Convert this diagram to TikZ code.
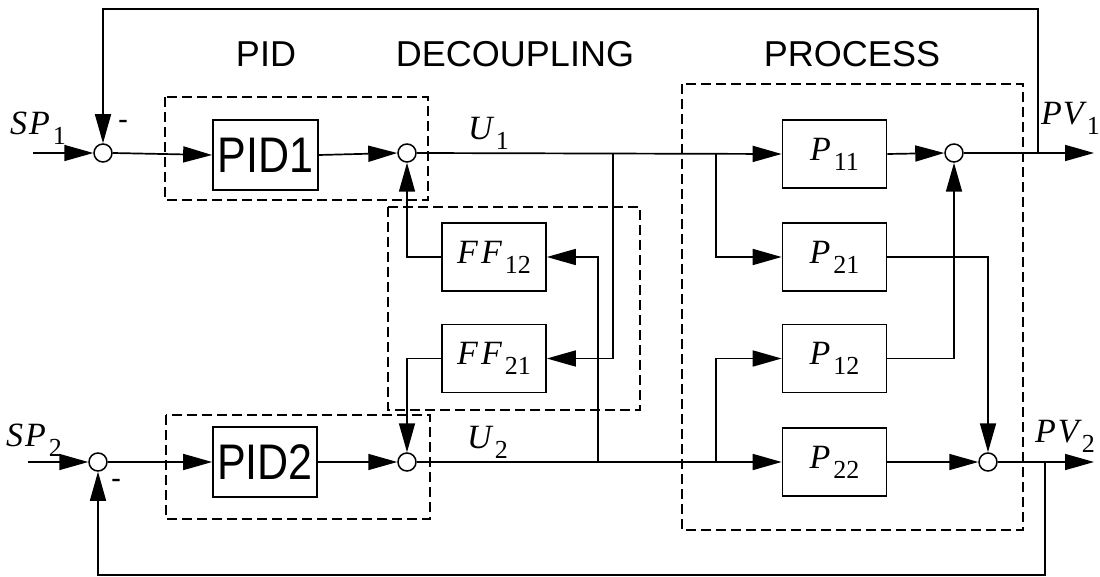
\documentclass[tikz,border=0pt]{standalone}
\usepackage{graphicx}
\usepackage{fontspec}
\setmainfont{Liberation Serif}
\newfontfamily\headfont{Liberation Sans}
\usetikzlibrary{arrows.meta}

% italic symbol with an upright, lowered index
\newcommand\sym[2]{{\fontsize{34}{34}\selectfont\itshape #1}\kern3pt\raisebox{-10pt}{\fontsize{26}{26}\selectfont #2}}
\newcommand\blocktext[1]{\scalebox{0.86}[1]{\headfont\fontsize{50}{50}\selectfont #1}}

\begin{document}
\begin{tikzpicture}[x=1pt,y=-1pt,
  wire/.style={line width=1.7pt},
  sig/.style={wire,-{Triangle[length=29pt,width=16pt]}},
  block/.style={draw,line width=1.7pt,minimum width=104pt,minimum height=68pt,inner sep=0pt},
  sumnode/.style={circle,draw,line width=1.5pt,fill=white,minimum size=18pt,inner sep=0pt},
  group/.style={draw,line width=1.6pt,dash pattern=on 10pt off 5pt},
  head/.style={font=\headfont\fontsize{36}{36}\selectfont},
  sign/.style={font=\headfont\fontsize{30}{30}\selectfont,inner sep=0pt}]

\useasboundingbox (0,0) rectangle (1100,577);

% dashed groups
\draw[group] (165,97) rectangle (428,200);
\draw[group] (166,415) rectangle (430,519);
\draw[group] (388,207) rectangle (640,410);
\draw[group] (682,84) rectangle (1023,530);

% headings
\node[head] (hpid) at (266,54) {PID};
\node[head] (hdec) at (515,54) {DECOUPLING};
\node[head] (hproc) at (852,54) {PROCESS};

% summing junctions
\node[sumnode] (s1) at (103,153) {};
\node[sumnode] (s2) at (407,153) {};
\node[sumnode] (s3) at (98,462) {};
\node[sumnode] (s4) at (407,462) {};
\node[sumnode] (s5) at (954,153) {};
\node[sumnode] (s6) at (988,462) {};

% controllers
\node[block,minimum width=105pt,minimum height=70pt] (pid1) at (265.5,155) {\blocktext{PID1}};
\node[block,minimum width=104pt,minimum height=70pt] (pid2) at (265,462) {\blocktext{PID2}};

% decouplers
\node[block] (ff12) at (494,257) {\sym{F\kern3pt F}{12}};
\node[block] (ff21) at (494,358.5) {\sym{F\kern3pt F}{21}};

% process elements
\node[block] (p11) at (834.5,154) {\sym{P}{11}};
\node[block] (p21) at (834.5,257) {\sym{P}{21}};
\node[block] (p12) at (834.5,358.5) {\sym{P}{12}};
\node[block] (p22) at (834.5,462) {\sym{P}{22}};

% free ends and taps
\coordinate (in1) at (33,153);
\coordinate (in2) at (28,462);
\coordinate (out1) at (1094,153);
\coordinate (out2) at (1094,462);
\coordinate (t1) at (1038,153);
\coordinate (t2) at (1045,462);
\coordinate (top) at (0,9);
\coordinate (bot) at (0,575);
\coordinate (b1) at (613,153);
\coordinate (b2) at (598,462);
\coordinate (c1) at (716,153);
\coordinate (c2) at (716,462);

% signal labels
\node[anchor=base west,inner sep=0pt] (lsp1) at (10,135) {\sym{S\kern2pt P}{1}};
\node[anchor=base west,inner sep=0pt] (lsp2) at (6,446) {\sym{S\kern2pt P}{2}};
\node[anchor=base west,inner sep=0pt] (lu1) at (468,140) {\sym{U}{1}};
\node[anchor=base west,inner sep=0pt] (lu2) at (467,448) {\sym{U}{2}};
\node[anchor=base west,inner sep=0pt] (lpv1) at (1041,125) {\sym{P\kern1pt V}{1}};
\node[anchor=base west,inner sep=0pt] (lpv2) at (1035,442) {\sym{P\kern2pt V}{2}};
\node[sign] (m1) at (123,125) {-};
\node[sign] (m2) at (116,484) {-};

% loop 1
\draw[sig] (in1) -- (s1.west);
\draw[sig] (s1.east) -- (pid1.west);
\draw[sig] (pid1.east) -- (s2.west);
\draw[sig] (s2.east) -- (p11.west);
\draw[sig] (p11.east) -- (s5.west);
\draw[sig] (s5.east) -- (out1);
\draw[sig] (t1) -- (t1 |- top) -| (s1.north);

% loop 2
\draw[sig] (in2) -- (s3.west);
\draw[sig] (s3.east) -- (pid2.west);
\draw[sig] (pid2.east) -- (s4.west);
\draw[sig] (s4.east) -- (p22.west);
\draw[sig] (p22.east) -- (s6.west);
\draw[sig] (s6.east) -- (out2);
\draw[sig] (t2) -- (t2 |- bot) -| (s3.south);

% decoupling paths
\draw[sig] (b1) -- (b1 |- ff21) -- (ff21.east);
\draw[sig] (b2) -- (b2 |- ff12) -- (ff12.east);
\draw[sig] (ff12.west) -| (s2.south);
\draw[sig] (ff21.west) -| (s4.north);

% cross couplings in the process
\draw[sig] (c1) |- (p21.west);
\draw[sig] (c2) |- (p12.west);
\draw[sig] (p12.east) -| (s5.south);
\draw[sig] (p21.east) -| (s6.north);
\end{tikzpicture}
\end{document}
